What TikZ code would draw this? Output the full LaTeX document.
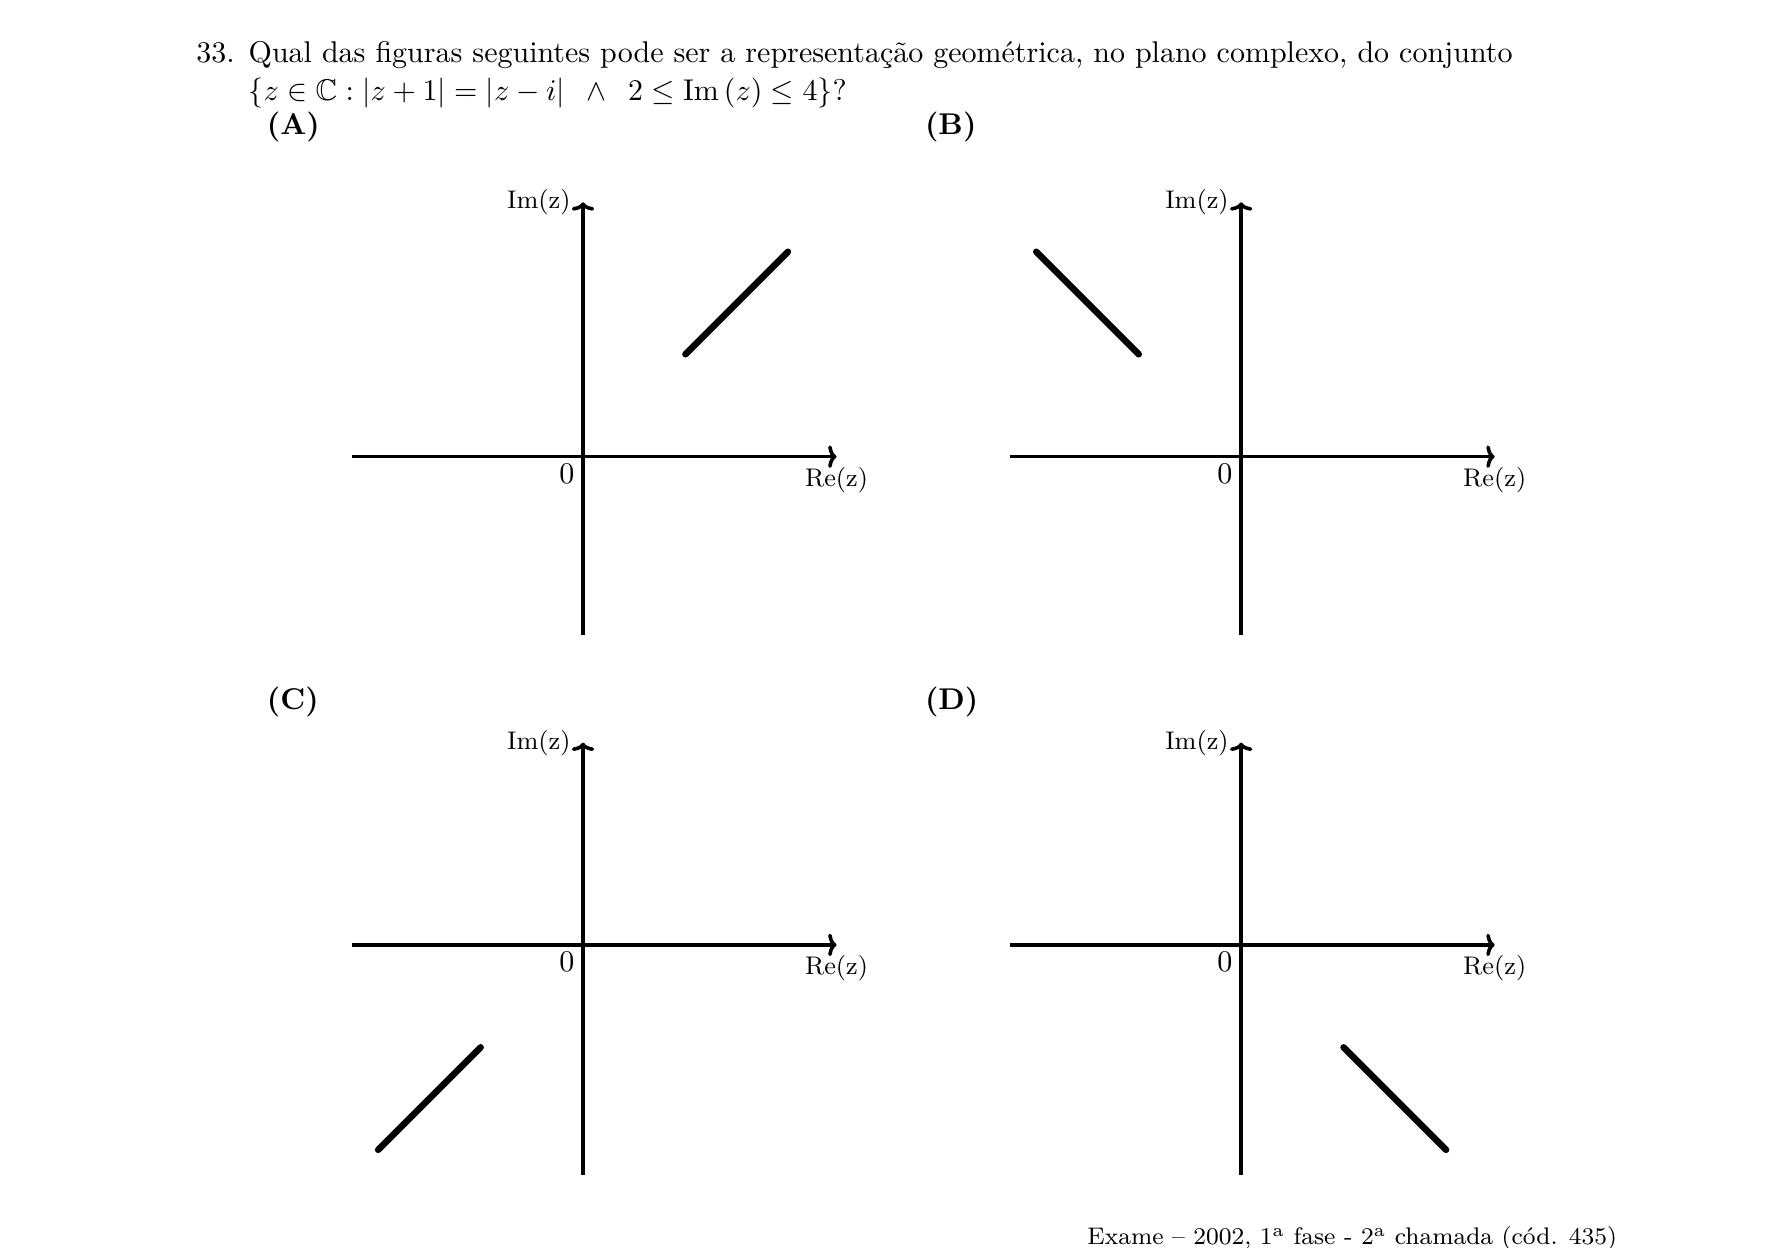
\documentclass[tikz,border=0pt]{standalone}
\usepackage{amsmath,amssymb}
\usepackage{fontspec}
\usepackage{tikz}
\usetikzlibrary{positioning,arrows.meta,calc}

\begin{document}
\begin{tikzpicture}[
  font=\fontsize{10}{12.5}\selectfont,
  txt/.style={anchor=base west,inner sep=0pt},
  opt/.style={txt,font=\fontsize{10}{12.5}\selectfont\bfseries},
  axis/.style={line width=1.2pt,-{To[length=2.8pt,width=7.5pt]}},
  seg/.style={line width=2.2pt,line cap=round},
  lab/.style={font=\fontsize{8.5}{10}\selectfont,inner sep=0pt}]
  \useasboundingbox (0,0) rectangle (20.911,14.620);
  % question
  \node[txt] (num) at (2.294,13.887) {33.};
  \node[txt] (line1) at (2.906,13.887) {Qual das figuras seguintes pode ser a representação geométrica, no plano complexo, do conjunto};
  \node[txt] (line2) at (2.906,13.447) {$\{z\in\mathbb{C}:|z+1|=|z-i|\ \,\wedge\,\ 2\leq \mathrm{Im}\,(z)\leq 4\}$?};
  % the four options: name/origin/label height/axis bottom/axis top/direction of the segment
  \foreach \name/\ox/\oy/\lh/\yb/\yt/\sx/\sy in {
      A/6.83/9.27/3.777/-2.09/2.98/1/1,
      B/14.54/9.27/3.777/-2.09/2.98/-1/1,
      C/6.83/3.55/2.762/-2.69/2.37/-1/-1,
      D/14.54/3.55/2.762/-2.69/2.37/1/-1}{
    \coordinate (o\name) at (\ox,\oy);
    \coordinate (xl\name) at ($(o\name)+(-2.71,0)$);
    \coordinate (xr\name) at ($(o\name)+(2.97,0)$);
    \coordinate (yb\name) at ($(o\name)+(0,\yb)$);
    \coordinate (yt\name) at ($(o\name)+(0,\yt)$);
    \coordinate (s1\name) at ($(o\name)+(1.2*\sx,1.2*\sy)$);
    \coordinate (s2\name) at ($(o\name)+(2.4*\sx,2.4*\sy)$);
    \node[opt] (opt\name) at ($(o\name)+(-3.71,\lh)$) {(\name)};
    \draw[axis] (xl\name) -- (xr\name);
    \draw[axis] (yb\name) -- (yt\name);
    \draw[seg] (s1\name) -- (s2\name);
    \node[lab,anchor=east] (im\name) at ($(yt\name)+(-0.14,0)$) {Im(z)};
    \node[lab,font=\fontsize{10}{12}\selectfont] (zero\name) at ($(o\name)+(-0.19,-0.2)$) {0};
    \node[lab] (re\name) at ($(xr\name)+(0,-0.27)$) {Re(z)};
  }
  % source
  \node[txt,anchor=base east,font=\fontsize{8}{10}\selectfont] (src) at (18.951,0.035) {Exame -- 2002, 1\textsuperscript{a} fase - 2\textsuperscript{a} chamada (cód. 435)};
\end{tikzpicture}
\end{document}
